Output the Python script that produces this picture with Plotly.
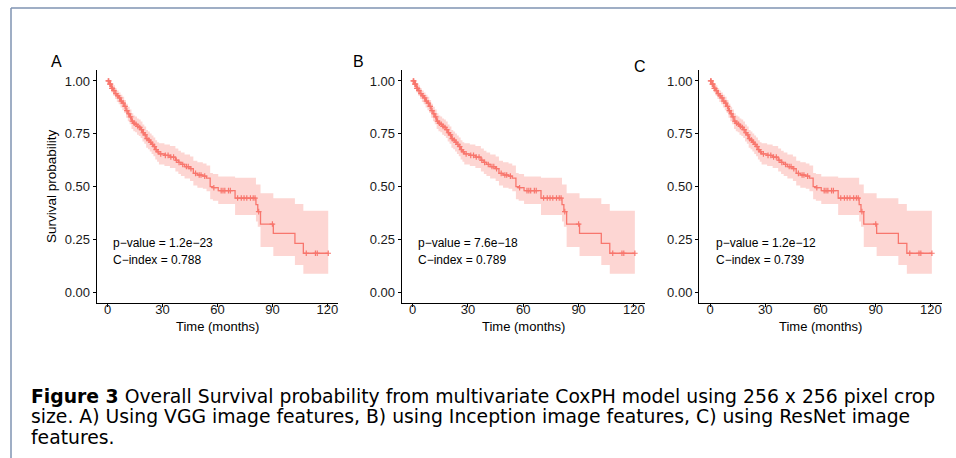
import plotly.graph_objects as go

# ---- data ----
times = [0, 1, 2, 3, 4, 5, 6, 7, 8, 9, 10, 11, 12, 13, 14, 15, 16, 17, 18, 19, 20,
         21, 22, 23, 24, 25, 26, 27, 28, 31, 34, 37, 38.6, 40, 42, 45, 46.8, 49, 52,
         54, 56, 57.5, 60.4, 69.6, 81, 82, 83.5, 90.5, 102.3, 106.9, 120.5]
surv = [1.0, 0.985, 0.965, 0.955, 0.94, 0.93, 0.92, 0.905, 0.895, 0.88, 0.86, 0.845,
        0.83, 0.81, 0.80, 0.795, 0.785, 0.78, 0.77, 0.755, 0.745, 0.727, 0.72, 0.71,
        0.70, 0.69, 0.675, 0.665, 0.655, 0.648, 0.64, 0.625, 0.615, 0.605, 0.595,
        0.585, 0.563, 0.555, 0.55, 0.54, 0.50, 0.495, 0.481, 0.446, 0.415, 0.382,
        0.323, 0.279, 0.232, 0.185, 0.185]
upper = [1.0, 0.998, 0.99, 0.98, 0.965, 0.955, 0.945, 0.935, 0.925, 0.91, 0.892, 0.878,
         0.865, 0.847, 0.837, 0.832, 0.822, 0.818, 0.808, 0.794, 0.785, 0.768, 0.761,
         0.752, 0.742, 0.733, 0.719, 0.71, 0.705, 0.70, 0.692, 0.68, 0.67, 0.662, 0.652,
         0.643, 0.623, 0.615, 0.61, 0.60, 0.565, 0.56, 0.548, 0.542, 0.51, 0.51, 0.469,
         0.445, 0.418, 0.386, 0.386]
lower = [1.0, 0.97, 0.945, 0.93, 0.915, 0.90, 0.89, 0.875, 0.862, 0.848, 0.826, 0.81,
         0.795, 0.773, 0.762, 0.757, 0.746, 0.74, 0.73, 0.714, 0.703, 0.684, 0.677,
         0.666, 0.655, 0.644, 0.628, 0.618, 0.605, 0.598, 0.588, 0.572, 0.56, 0.55,
         0.539, 0.527, 0.505, 0.495, 0.49, 0.478, 0.44, 0.433, 0.418, 0.366, 0.335,
         0.31, 0.215, 0.172, 0.129, 0.088, 0.088]
censor_times = [0.3, 0.6, 1.2, 1.5, 2.3, 2.6, 3.4, 4.5, 5.5, 6.5, 7.5, 8.5, 9.5, 10.5,
                11.5, 12.5, 13.5, 14.5, 15.5, 16.5, 17.5, 18.5, 19.5, 20.5, 21.5, 22.5,
                23.5, 24.5, 25.5, 26.5, 27.5, 29, 31.5, 33, 34.5, 36, 37.5, 39, 41, 43,
                44, 45.5, 48, 50, 51, 53, 58, 62, 63, 64, 66, 67, 71, 73, 74.5, 76, 78,
                79.5, 80.5, 82.5, 90, 108.5, 113.5, 114.5, 120.5]

panel_letters = ["A", "B", "C"]
p_values = ["p\u2212value = 1.2e\u221223", "p\u2212value = 7.6e\u221218", "p\u2212value = 1.2e\u221212"]
c_indexes = ["C\u2212index = 0.788", "C\u2212index = 0.789", "C\u2212index = 0.739"]
x_ticks = [0, 30, 60, 90, 120]
y_ticks = [0.0, 0.25, 0.5, 0.75, 1.0]
y_tick_labels = ["0.00", "0.25", "0.50", "0.75", "1.00"]

caption_lines = [
    "<b>Figure 3</b> Overall Survival probability from multivariate CoxPH model using 256 x 256 pixel crop",
    "size. A) Using VGG image features, B) using Inception image features, C) using ResNet image",
    "features.",
]

# ---- layout helpers ----
W, H = 956, 458
def px_x(p):
    return p / W
def px_y(p):
    return 1 - p / H

LINE = "#F8766D"
BAND = "rgba(248,118,109,0.30)"
FONT = "Liberation Sans, Arial"

x_domains = [(96.7, 338.3), (401.6, 645.0), (699.0, 942.0)]
y_domain = [px_y(302.9), px_y(70.4)]


def surv_at(t):
    val = surv[0]
    for tt, s in zip(times, surv):
        if tt <= t:
            val = s
    return val

fig = go.Figure()
annotations = []
for i in range(3):
    xa = "x" if i == 0 else f"x{i+1}"
    ya = "y" if i == 0 else f"y{i+1}"
    fig.add_trace(go.Scatter(x=times, y=lower, mode="lines", line=dict(width=0, shape="hv"),
                             hoverinfo="skip", showlegend=False, xaxis=xa, yaxis=ya))
    fig.add_trace(go.Scatter(x=times, y=upper, mode="lines", line=dict(width=0, shape="hv"),
                             fill="tonexty", fillcolor=BAND, hoverinfo="skip",
                             showlegend=False, xaxis=xa, yaxis=ya))
    fig.add_trace(go.Scatter(x=times, y=surv, mode="lines", line=dict(color=LINE, width=1.3, shape="hv"),
                             showlegend=False, xaxis=xa, yaxis=ya))
    fig.add_trace(go.Scatter(x=censor_times, y=[surv_at(t) for t in censor_times], mode="markers",
                             marker=dict(symbol="cross-thin", size=4, color=LINE,
                                         line=dict(color=LINE, width=1.2)),
                             showlegend=False, xaxis=xa, yaxis=ya))

    ax_common = dict(showline=True, linecolor="black", linewidth=1, ticks="outside",
                     ticklen=3, tickcolor="black", tickwidth=1, showgrid=False,
                     zeroline=False, tickfont=dict(family=FONT, size=13, color="#1a1a1a"),
                     fixedrange=True)
    xkey = "xaxis" if i == 0 else f"xaxis{i+1}"
    ykey = "yaxis" if i == 0 else f"yaxis{i+1}"
    fig.layout[xkey] = dict(domain=[px_x(x_domains[i][0]), px_x(x_domains[i][1])],
                            range=[-6, 126], tickvals=x_ticks, anchor=ya,
                            ticklabelstandoff=-9, **ax_common)
    fig.layout[ykey] = dict(domain=y_domain, range=[-0.05, 1.05], tickvals=y_ticks,
                            ticktext=y_tick_labels, anchor=xa, **ax_common)

    annotations.append(dict(text=p_values[i], x=2.0, y=0.232, xref=xa, yref=ya,
                            xanchor="left", yanchor="middle", showarrow=False,
                            font=dict(family=FONT, size=12, color="black")))
    annotations.append(dict(text=c_indexes[i], x=2.0, y=0.152, xref=xa, yref=ya,
                            xanchor="left", yanchor="middle", showarrow=False,
                            font=dict(family=FONT, size=12, color="black")))
    cx = (x_domains[i][0] + x_domains[i][1]) / 2
    annotations.append(dict(text="Time (months)", x=px_x(cx), y=px_y(326), xref="paper", yref="paper",
                            xanchor="center", yanchor="middle", showarrow=False,
                            font=dict(family=FONT, size=13, color="black")))

letter_pos = [(56, 61), (358, 62), (640, 67)]
for letter, (lx, ly) in zip(panel_letters, letter_pos):
    annotations.append(dict(text=letter, x=px_x(lx), y=px_y(ly), xref="paper", yref="paper",
                            xanchor="center", yanchor="middle", showarrow=False,
                            font=dict(family=FONT, size=16, color="black")))

annotations.append(dict(text="Survival probability", x=px_x(52), y=px_y(186), xref="paper", yref="paper",
                        xanchor="center", yanchor="middle", showarrow=False, textangle=-90,
                        font=dict(family=FONT, size=13.5, color="black")))

caption_y = [396, 416.5, 437]
for line, cy in zip(caption_lines, caption_y):
    annotations.append(dict(text=line, x=px_x(29), y=px_y(cy), xref="paper", yref="paper",
                            xanchor="left", yanchor="middle", showarrow=False,
                            font=dict(family="DejaVu Sans", size=18.8, color="black")))

shapes = [
    dict(type="line", xref="paper", yref="paper", x0=px_x(11), x1=px_x(11), y0=0, y1=px_y(8),
         line=dict(color="#7f93b2", width=1.5)),
    dict(type="line", xref="paper", yref="paper", x0=px_x(11), x1=1, y0=px_y(8), y1=px_y(8),
         line=dict(color="#7f93b2", width=1.5)),
]

fig.update_layout(width=W, height=H, margin=dict(l=0, r=0, t=0, b=0),
                  paper_bgcolor="white", plot_bgcolor="white",
                  annotations=annotations, shapes=shapes, showlegend=False)

fig.write_html("out.html", config={"displayModeBar": False})
